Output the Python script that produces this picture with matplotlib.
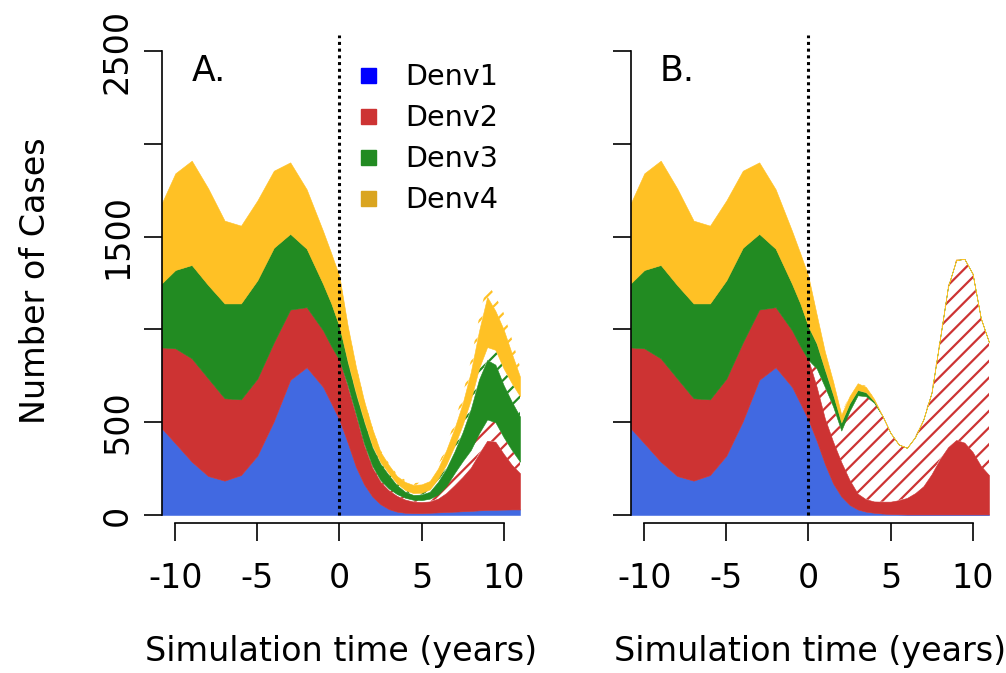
import numpy as np
import matplotlib
matplotlib.use("Agg")
import matplotlib.pyplot as plt
from matplotlib.lines import Line2D

# time before the intervention (shared by both panels)
years_pre = [-10.83, -10, -9, -8, -7, -6, -5, -4, -3, -2, -1, -0.5, 0]
denv1_pre = [467, 386, 287, 210, 185, 215, 320, 505, 728, 796, 690, 602, 512]
denv2_pre = [436, 512, 557, 526, 444, 408, 415, 425, 379, 324, 305, 308, 323]
denv3_pre = [345, 422, 503, 503, 511, 517, 530, 510, 408, 315, 250, 230, 180]
denv4_pre = [431, 521, 562, 521, 446, 419, 430, 415, 385, 320, 285, 270, 269]

# time after the intervention
years_post = [0.5, 1, 1.5, 2, 2.5, 3, 3.5, 4, 4.5, 5, 5.5,
              6, 6.5, 7, 7.5, 8, 8.5, 9, 9.5, 10, 10.5, 11]

# panel A: solid cases and extra (hatched) cases
denv1_a = [390, 260, 165, 100, 58, 32, 18, 12, 10, 10, 12,
           14, 16, 18, 20, 22, 25, 27, 28, 29, 30, 30]
denv2_a = [300, 275, 210, 155, 120, 101, 85, 71, 62, 60, 61,
           74, 102, 142, 185, 233, 305, 373, 367, 301, 240, 195]
denv3_a = [120, 105, 115, 100, 87, 72, 47, 32, 26, 30, 37,
           68, 93, 115, 155, 220, 290, 320, 310, 280, 260, 243]
denv4_a = [190, 140, 105, 90, 55, 45, 40, 43, 44, 45, 45,
           55, 78, 95, 115, 150, 200, 270, 210, 210, 160, 105]
denv2_a_extra = [10, 10, 10, 10, 10, 10, 10, 10, 10, 10, 15,
                 22, 37, 65, 85, 95, 110, 115, 105, 90, 80, 62]
denv3_a_extra = [10, 10, 10, 10, 10, 10, 10, 10, 10, 10, 13,
                 17, 22, 30, 40, 50, 60, 70, 80, 90, 100, 110]
denv4_a_extra = [10, 10, 10, 10, 10, 10, 10, 10, 10, 10, 12,
                 15, 22, 35, 45, 60, 70, 75, 80, 90, 80, 55]

# panel B
denv1_b = [400, 275, 170, 100, 55, 30, 18, 12, 8, 5, 4,
           3, 3, 3, 3, 3, 3, 3, 3, 3, 3, 3]
denv2_b = [290, 245, 225, 185, 134, 85, 67, 61, 64, 67, 76,
           89, 115, 152, 217, 297, 362, 401, 387, 337, 262, 212]
denv3_b = [130, 90, 60, 40, 40, 27, 20, 7, 0, 0, 0,
           0, 0, 0, 0, 0, 0, 0, 0, 0, 0, 0]
denv4_b = [155, 95, 70, 40, 38, 36, 28, 11, 0, 0, 0,
           0, 0, 0, 0, 0, 0, 0, 0, 0, 0, 0]
denv2_b_extra = [100, 170, 190, 170, 371, 530, 555, 532, 463, 370, 300,
                 270, 302, 360, 440, 643, 865, 970, 990, 960, 795, 715]
denv3_b_extra = [5, 5, 5, 5, 2, 2, 2, 2, 0, 0, 0,
                 0, 0, 0, 0, 0, 0, 0, 0, 0, 0, 0]
denv4_b_extra = [5, 5, 5, 5, 5, 5, 5, 3, 3, 2, 2,
                 2, 2, 2, 2, 2, 2, 2, 2, 2, 2, 2]

labels = ["Denv1", "Denv2", "Denv3", "Denv4"]
fill_colors = ["#4169E1", "#CD3333", "#228B22", "#FFC125"]
legend_colors = ["#0000FF", "#CD3333", "#228B22", "#DAA520"]

y_ticks = [0, 500, 1000, 1500, 2000, 2500]
y_tick_labels = ["0", "500", "", "1500", "", "2500"]
x_ticks = [-10, -5, 0, 5, 10]
x_tick_labels = ["-10", "-5", "0", "5", "10"]

W, H = 1006, 673
PX_PER_CASE = (515 - 51) / 2500


def draw_panel(ax, solids, extras):
    t = years_pre + years_post
    pre = [denv1_pre, denv2_pre, denv3_pre, denv4_pre]
    base = np.zeros(len(t))
    for i in range(4):
        vals = np.array(pre[i] + solids[i], dtype=float)
        top = base + vals
        ax.fill_between(t, base, top, color=fill_colors[i], lw=0.4)
        base = top
        if extras[i] is not None:
            ex = np.array([0] * len(pre[i]) + extras[i], dtype=float)
            ax.fill_between(t, base, base + ex, facecolor="none",
                            edgecolor=fill_colors[i], hatch="//", lw=0)
            base = base + ex


def style_axes(ax, y_top, show_y_labels):
    ax.set_xlim(-10.83, 11)
    ax.set_ylim(-8 / PX_PER_CASE, y_top)
    for side in ["top", "right"]:
        ax.spines[side].set_visible(False)
    ax.spines["left"].set_bounds(0, 2500)
    ax.spines["bottom"].set_bounds(-10, 10)
    for side in ["left", "bottom"]:
        ax.spines[side].set_linewidth(1.2)
    ax.set_xticks(x_ticks)
    ax.set_xticklabels(x_tick_labels)
    ax.set_yticks(y_ticks)
    if show_y_labels:
        ax.set_yticklabels(y_tick_labels, rotation=90, va="center")
    else:
        ax.set_yticklabels([])
    ax.tick_params(axis="both", direction="out", length=13, width=1.2,
                   labelsize=24)
    ax.tick_params(axis="x", pad=15)
    ax.tick_params(axis="y", pad=7)
    ax.vlines(0, 0, y_top, colors="black", linestyles=(0, (1, 1.2)), lw=2.2)


def main():
    plt.rcParams["font.family"] = ["DejaVu Sans"]
    plt.rcParams["axes.unicode_minus"] = False
    plt.rcParams["hatch.linewidth"] = 1.6

    fig = plt.figure(figsize=(W / 100, H / 100), dpi=100)

    ax_bottom = 523
    ax_top = 35
    y_top = (515 - ax_top) / PX_PER_CASE
    width = 520 - 161.7
    height = (ax_bottom - ax_top) / H

    ax_a = fig.add_axes([161.7 / W, 1 - ax_bottom / H, width / W, height])
    ax_b = fig.add_axes([630.7 / W, 1 - ax_bottom / H, width / W, height])

    draw_panel(ax_a, [denv1_a, denv2_a, denv3_a, denv4_a],
               [None, denv2_a_extra, denv3_a_extra, denv4_a_extra])
    draw_panel(ax_b, [denv1_b, denv2_b, denv3_b, denv4_b],
               [None, denv2_b_extra, denv3_b_extra, denv4_b_extra])

    style_axes(ax_a, y_top, True)
    style_axes(ax_b, y_top, False)

    fig.text(209 / W, 1 - 71 / H, "A.", fontsize=25, ha="center", va="center")
    fig.text(677 / W, 1 - 71 / H, "B.", fontsize=25, ha="center", va="center")

    for cx in [341, 810]:
        fig.text(cx / W, 1 - 651 / H, "Simulation time (years)", fontsize=24,
                 ha="center", va="center")
    fig.text(36 / W, 1 - 281 / H, "Number of Cases", fontsize=24,
             rotation=90, ha="center", va="center")

    handles = [Line2D([], [], marker="s", linestyle="none", markersize=10.8,
                      markerfacecolor=c, markeredgecolor=c)
               for c in legend_colors]
    ax_a.legend(handles, labels, loc="upper left",
                bbox_to_anchor=(353.7 / W, 1 - 63 / H),
                bbox_transform=fig.transFigure, frameon=False, fontsize=20.6,
                handlelength=1.0, handletextpad=0.79, labelspacing=0.45,
                borderpad=0, borderaxespad=0)

    fig.savefig("out.png", dpi=100)
    plt.close(fig)


if __name__ == "__main__":
    main()
